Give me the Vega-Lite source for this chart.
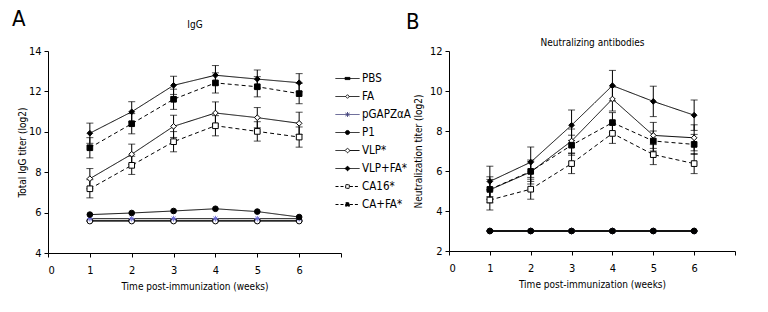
{
  "$schema": "https://vega.github.io/schema/vega-lite/v6.json",
  "padding": {"left": 12, "top": 8, "right": 5, "bottom": 5},
  "bounds": "flush",
  "spacing": 108,
  "datasets": {
    "igg": [
      {"group": "PBS", "week": 1, "mean": 5.6, "err": 0},
      {"group": "PBS", "week": 2, "mean": 5.6, "err": 0},
      {"group": "PBS", "week": 3, "mean": 5.6, "err": 0},
      {"group": "PBS", "week": 4, "mean": 5.6, "err": 0},
      {"group": "PBS", "week": 5, "mean": 5.6, "err": 0},
      {"group": "PBS", "week": 6, "mean": 5.6, "err": 0},
      {"group": "FA", "week": 1, "mean": 5.58, "err": 0},
      {"group": "FA", "week": 2, "mean": 5.58, "err": 0},
      {"group": "FA", "week": 3, "mean": 5.58, "err": 0},
      {"group": "FA", "week": 4, "mean": 5.58, "err": 0},
      {"group": "FA", "week": 5, "mean": 5.58, "err": 0},
      {"group": "FA", "week": 6, "mean": 5.58, "err": 0},
      {"group": "pGAPZαA", "week": 1, "mean": 5.7, "err": 0},
      {"group": "pGAPZαA", "week": 2, "mean": 5.7, "err": 0},
      {"group": "pGAPZαA", "week": 3, "mean": 5.7, "err": 0},
      {"group": "pGAPZαA", "week": 4, "mean": 5.7, "err": 0},
      {"group": "pGAPZαA", "week": 5, "mean": 5.7, "err": 0},
      {"group": "pGAPZαA", "week": 6, "mean": 5.7, "err": 0},
      {"group": "P1", "week": 1, "mean": 5.9, "err": 0},
      {"group": "P1", "week": 2, "mean": 5.98, "err": 0},
      {"group": "P1", "week": 3, "mean": 6.08, "err": 0},
      {"group": "P1", "week": 4, "mean": 6.19, "err": 0},
      {"group": "P1", "week": 5, "mean": 6.05, "err": 0},
      {"group": "P1", "week": 6, "mean": 5.78, "err": 0},
      {"group": "VLP*", "week": 1, "mean": 7.68, "err": 0.5},
      {"group": "VLP*", "week": 2, "mean": 8.89, "err": 0.5},
      {"group": "VLP*", "week": 3, "mean": 10.27, "err": 0.55},
      {"group": "VLP*", "week": 4, "mean": 10.93, "err": 0.55},
      {"group": "VLP*", "week": 5, "mean": 10.7, "err": 0.5},
      {"group": "VLP*", "week": 6, "mean": 10.42, "err": 0.55},
      {"group": "VLP+FA*", "week": 1, "mean": 9.93, "err": 0.5},
      {"group": "VLP+FA*", "week": 2, "mean": 10.99, "err": 0.5},
      {"group": "VLP+FA*", "week": 3, "mean": 12.3, "err": 0.45},
      {"group": "VLP+FA*", "week": 4, "mean": 12.8, "err": 0.48},
      {"group": "VLP+FA*", "week": 5, "mean": 12.61, "err": 0.45},
      {"group": "VLP+FA*", "week": 6, "mean": 12.43, "err": 0.45},
      {"group": "CA16*", "week": 1, "mean": 7.18, "err": 0.45},
      {"group": "CA16*", "week": 2, "mean": 8.34, "err": 0.45},
      {"group": "CA16*", "week": 3, "mean": 9.51, "err": 0.5},
      {"group": "CA16*", "week": 4, "mean": 10.3, "err": 0.5},
      {"group": "CA16*", "week": 5, "mean": 10.02, "err": 0.48},
      {"group": "CA16*", "week": 6, "mean": 9.74, "err": 0.5},
      {"group": "CA+FA*", "week": 1, "mean": 9.21, "err": 0.5},
      {"group": "CA+FA*", "week": 2, "mean": 10.4, "err": 0.5},
      {"group": "CA+FA*", "week": 3, "mean": 11.61, "err": 0.5},
      {"group": "CA+FA*", "week": 4, "mean": 12.42, "err": 0.5},
      {"group": "CA+FA*", "week": 5, "mean": 12.23, "err": 0.5},
      {"group": "CA+FA*", "week": 6, "mean": 11.89, "err": 0.5}
    ],
    "neut": [
      {"group": "PBS", "week": 1, "mean": 3, "err": 0},
      {"group": "PBS", "week": 2, "mean": 3, "err": 0},
      {"group": "PBS", "week": 3, "mean": 3, "err": 0},
      {"group": "PBS", "week": 4, "mean": 3, "err": 0},
      {"group": "PBS", "week": 5, "mean": 3, "err": 0},
      {"group": "PBS", "week": 6, "mean": 3, "err": 0},
      {"group": "FA", "week": 1, "mean": 3, "err": 0},
      {"group": "FA", "week": 2, "mean": 3, "err": 0},
      {"group": "FA", "week": 3, "mean": 3, "err": 0},
      {"group": "FA", "week": 4, "mean": 3, "err": 0},
      {"group": "FA", "week": 5, "mean": 3, "err": 0},
      {"group": "FA", "week": 6, "mean": 3, "err": 0},
      {"group": "pGAPZαA", "week": 1, "mean": 3, "err": 0},
      {"group": "pGAPZαA", "week": 2, "mean": 3, "err": 0},
      {"group": "pGAPZαA", "week": 3, "mean": 3, "err": 0},
      {"group": "pGAPZαA", "week": 4, "mean": 3, "err": 0},
      {"group": "pGAPZαA", "week": 5, "mean": 3, "err": 0},
      {"group": "pGAPZαA", "week": 6, "mean": 3, "err": 0},
      {"group": "P1", "week": 1, "mean": 3, "err": 0},
      {"group": "P1", "week": 2, "mean": 3, "err": 0},
      {"group": "P1", "week": 3, "mean": 3, "err": 0},
      {"group": "P1", "week": 4, "mean": 3, "err": 0},
      {"group": "P1", "week": 5, "mean": 3, "err": 0},
      {"group": "P1", "week": 6, "mean": 3, "err": 0},
      {"group": "VLP*", "week": 1, "mean": 5.06, "err": 0.65},
      {"group": "VLP*", "week": 2, "mean": 5.95, "err": 0.6},
      {"group": "VLP*", "week": 3, "mean": 7.5, "err": 0.6},
      {"group": "VLP*", "week": 4, "mean": 9.6, "err": 0.6},
      {"group": "VLP*", "week": 5, "mean": 7.78, "err": 0.65},
      {"group": "VLP*", "week": 6, "mean": 7.66, "err": 0.65},
      {"group": "VLP+FA*", "week": 1, "mean": 5.48, "err": 0.76},
      {"group": "VLP+FA*", "week": 2, "mean": 6.44, "err": 0.76},
      {"group": "VLP+FA*", "week": 3, "mean": 8.29, "err": 0.76},
      {"group": "VLP+FA*", "week": 4, "mean": 10.27, "err": 0.76},
      {"group": "VLP+FA*", "week": 5, "mean": 9.48, "err": 0.76},
      {"group": "VLP+FA*", "week": 6, "mean": 8.79, "err": 0.76},
      {"group": "CA16*", "week": 1, "mean": 4.55, "err": 0.5},
      {"group": "CA16*", "week": 2, "mean": 5.09, "err": 0.5},
      {"group": "CA16*", "week": 3, "mean": 6.37, "err": 0.5},
      {"group": "CA16*", "week": 4, "mean": 7.88, "err": 0.5},
      {"group": "CA16*", "week": 5, "mean": 6.82, "err": 0.5},
      {"group": "CA16*", "week": 6, "mean": 6.37, "err": 0.5},
      {"group": "CA+FA*", "week": 1, "mean": 5.08, "err": 0.5},
      {"group": "CA+FA*", "week": 2, "mean": 5.98, "err": 0.5},
      {"group": "CA+FA*", "week": 3, "mean": 7.29, "err": 0.5},
      {"group": "CA+FA*", "week": 4, "mean": 8.42, "err": 0.5},
      {"group": "CA+FA*", "week": 5, "mean": 7.5, "err": 0.5},
      {"group": "CA+FA*", "week": 6, "mean": 7.33, "err": 0.5}
    ]
  },
  "hconcat": [
    {
      "width": 293,
      "height": 202,
      "data": {"name": "igg"},
      "title": {"text": "A", "anchor": "start", "frame": "group", "fontSize": 22, "dx": -36, "dy": 16},
      "resolve": {"axis": {"x": "independent"}, "scale": {"shape": "independent", "fill": "independent", "stroke": "independent", "strokeDash": "independent"}},
      "layer": [
        {
          "mark": {"type": "line", "color": "black", "strokeWidth": 1},
          "encoding": {
            "x": {"field": "week", "type": "quantitative", "scale": {"domain": [0, 7], "nice": false},
              "axis": {"orient": "bottom", "values": [0, 1, 2, 3, 4, 5, 6, 7], "labelExpr": "datum.value == 7 ? '' : datum.label", "title": "Time post-immunization (weeks)", "labelPadding": 7, "titlePadding": 6}},
            "y": {"field": "mean", "type": "quantitative", "title": "Total IgG titer (log2)", "scale": {"domain": [4, 14], "nice": false, "zero": false},
              "axis": {"values": [4, 6, 8, 10, 12, 14], "titlePadding": 1}},
            "detail": {"field": "group"},
            "strokeDash": {"field": "group", "type": "nominal", "legend": null,
              "scale": {"domain": ["CA+FA*", "CA16*", "VLP+FA*", "VLP*", "P1", "pGAPZαA", "FA", "PBS"],
                "range": [[4, 3], [4, 3], [1, 0], [1, 0], [1, 0], [1, 0], [1, 0], [1, 0]]}}
          }
        },
        {
          "transform": [{"filter": "datum.err > 0"}],
          "mark": {"type": "errorbar", "color": "black", "ticks": {"size": 7, "color": "black"}, "rule": {"color": "black", "strokeWidth": 1}},
          "encoding": {
            "x": {"field": "week", "type": "quantitative", "axis": null},
            "y": {"field": "mean", "type": "quantitative", "title": "Total IgG titer (log2)"},
            "yError": {"field": "err"}
          }
        },
        {
          "mark": {"type": "point", "size": 32, "strokeWidth": 1, "opacity": 1},
          "encoding": {
            "x": {"field": "week", "type": "quantitative",
              "axis": {"orient": "top", "title": "IgG", "domain": false, "ticks": false, "labels": false, "titlePadding": 22}},
            "y": {"field": "mean", "type": "quantitative", "title": "Total IgG titer (log2)"},
            "shape": {"field": "group", "type": "nominal", "legend": null,
              "scale": {"domain": ["CA+FA*", "CA16*", "VLP+FA*", "VLP*", "P1", "pGAPZαA", "FA", "PBS"],
                "range": ["square", "square", "diamond", "diamond", "circle", "M-1,0H1M0,-1V1M-0.7,-0.7L0.7,0.7M-0.7,0.7L0.7,-0.7", "circle", "M-1,-0.4H1V0.4H-1Z"]}},
            "fill": {"field": "group", "type": "nominal", "legend": null,
              "scale": {"domain": ["CA+FA*", "CA16*", "VLP+FA*", "VLP*", "P1", "pGAPZαA", "FA", "PBS"],
                "range": ["black", "white", "black", "white", "black", "white", "white", "black"]}},
            "stroke": {"field": "group", "type": "nominal", "legend": null,
              "scale": {"domain": ["CA+FA*", "CA16*", "VLP+FA*", "VLP*", "P1", "pGAPZαA", "FA", "PBS"],
                "range": ["black", "black", "black", "black", "black", "#6f6fd8", "black", "black"]}}
          }
        },
        {
          "transform": [{"filter": "datum.week > 100"}],
          "mark": {"type": "point", "strokeWidth": 1, "opacity": 1},
          "encoding": {
            "shape": {"field": "group", "type": "nominal",
              "scale": {"domain": ["PBS", "FA", "pGAPZαA", "P1", "VLP*", "VLP+FA*", "CA16*", "CA+FA*"],
                "range": [
                  "M-1,0H1M-0.2,-0.09H0.2V0.09H-0.2Z",
                  "M-1,0H-0.15M0.15,0H1M-0.15,0L0,-0.15L0.15,0L0,0.15Z",
                  "M-1,0H1M0,-0.2V0.2M-0.17,-0.12L0.17,0.12M-0.17,0.12L0.17,-0.12",
                  "M-1,0H1M0.17,0A0.17,0.17 0 1,1 -0.17,0A0.17,0.17 0 1,1 0.17,0Z",
                  "M-1,0H-0.2M0.2,0H1M-0.2,0L0,-0.2L0.2,0L0,0.2Z",
                  "M-1,0H1M-0.2,0L0,-0.2L0.2,0L0,0.2Z",
                  "M-1,0H-0.2M0.2,0H1M-0.15,-0.15H0.15M0.15,-0.15V0.15M0.15,0.15H-0.15M-0.15,0.15V-0.15",
                  "M-1,0H-0.2M0.2,0H1M-0.15,-0.15H0.15V0.15H-0.15Z"
                ]},
              "legend": {
                "orient": "none", "legendX": 287, "legendY": 15, "title": null, "padding": 0,
                "symbolSize": 576, "symbolStrokeWidth": 1, "symbolOpacity": 1, "labelOffset": 2, "rowPadding": -4.2,
                "labelFontSize": 11.5, "labelColor": "black"
              }},
            "fill": {"field": "group", "type": "nominal",
              "scale": {"domain": ["PBS", "FA", "pGAPZαA", "P1", "VLP*", "VLP+FA*", "CA16*", "CA+FA*"],
                "range": ["black", "white", "white", "black", "white", "black", "white", "black"]},
              "legend": {"orient": "none", "legendX": 287, "legendY": 15, "title": null, "padding": 0,
                "symbolSize": 576, "symbolStrokeWidth": 1, "symbolOpacity": 1, "labelOffset": 2, "rowPadding": -4.2,
                "labelFontSize": 11.5, "labelColor": "black"}},
            "stroke": {"field": "group", "type": "nominal",
              "scale": {"domain": ["PBS", "FA", "pGAPZαA", "P1", "VLP*", "VLP+FA*", "CA16*", "CA+FA*"],
                "range": ["black", "black", "#40407a", "black", "black", "black", "black", "black"]},
              "legend": {"orient": "none", "legendX": 287, "legendY": 15, "title": null, "padding": 0,
                "symbolSize": 576, "symbolStrokeWidth": 1, "symbolOpacity": 1, "labelOffset": 2, "rowPadding": -4.2,
                "labelFontSize": 11.5, "labelColor": "black"}},
            "strokeDash": {"field": "group", "type": "nominal",
              "scale": {"domain": ["PBS", "FA", "pGAPZαA", "P1", "VLP*", "VLP+FA*", "CA16*", "CA+FA*"],
                "range": [[1, 0], [1, 0], [1, 0], [1, 0], [1, 0], [1, 0], [3, 2], [3, 2]]},
              "legend": {"orient": "none", "legendX": 287, "legendY": 15, "title": null, "padding": 0,
                "symbolSize": 576, "symbolStrokeWidth": 1, "symbolOpacity": 1, "labelOffset": 2, "rowPadding": -4.2,
                "labelFontSize": 11.5, "labelColor": "black"}}
          }
        }
      ]
    },
    {
      "width": 286,
      "height": 200,
      "data": {"name": "neut"},
      "title": {"text": "B", "anchor": "start", "frame": "group", "fontSize": 22, "dx": -43, "dy": 1},
      "resolve": {"axis": {"x": "independent"}},
      "layer": [
        {
          "mark": {"type": "line", "color": "black", "strokeWidth": 1},
          "encoding": {
            "x": {"field": "week", "type": "quantitative", "scale": {"domain": [0, 7], "nice": false},
              "axis": {"orient": "bottom", "values": [0, 1, 2, 3, 4, 5, 6, 7], "labelExpr": "datum.value == 7 ? '' : datum.label", "title": "Time post-immunization (weeks)", "labelPadding": 7, "titlePadding": 6}},
            "y": {"field": "mean", "type": "quantitative", "title": "Neutralization titer (log2)", "scale": {"domain": [2, 12], "nice": false, "zero": false},
              "axis": {"values": [2, 4, 6, 8, 10, 12], "titlePadding": 6}},
            "detail": {"field": "group"},
            "strokeDash": {"field": "group", "type": "nominal", "legend": null,
              "scale": {"domain": ["PBS", "FA", "pGAPZαA", "P1", "VLP*", "VLP+FA*", "CA16*", "CA+FA*"],
                "range": [[1, 0], [1, 0], [1, 0], [1, 0], [1, 0], [1, 0], [4, 3], [4, 3]]}}
          }
        },
        {
          "transform": [{"filter": "datum.err > 0"}],
          "mark": {"type": "errorbar", "color": "black", "ticks": {"size": 7, "color": "black"}, "rule": {"color": "black", "strokeWidth": 1}},
          "encoding": {
            "x": {"field": "week", "type": "quantitative", "axis": null},
            "y": {"field": "mean", "type": "quantitative", "title": "Neutralization titer (log2)", "axis": {"values": [2, 4, 6, 8, 10, 12], "titlePadding": 6}},
            "yError": {"field": "err"}
          }
        },
        {
          "mark": {"type": "point", "size": 32, "strokeWidth": 1, "opacity": 1},
          "encoding": {
            "x": {"field": "week", "type": "quantitative",
              "axis": {"orient": "top", "title": "Neutralizing antibodies", "domain": false, "ticks": false, "labels": false, "titlePadding": 4}},
            "y": {"field": "mean", "type": "quantitative", "title": "Neutralization titer (log2)", "axis": {"values": [2, 4, 6, 8, 10, 12], "titlePadding": 6}},
            "shape": {"field": "group", "type": "nominal", "legend": null,
              "scale": {"domain": ["PBS", "FA", "pGAPZαA", "P1", "VLP*", "VLP+FA*", "CA16*", "CA+FA*"],
                "range": ["M-1,-0.4H1V0.4H-1Z", "circle", "M-1,0H1M0,-1V1M-0.7,-0.7L0.7,0.7M-0.7,0.7L0.7,-0.7", "circle", "diamond", "diamond", "square", "square"]}},
            "fill": {"field": "group", "type": "nominal", "legend": null,
              "scale": {"domain": ["PBS", "FA", "pGAPZαA", "P1", "VLP*", "VLP+FA*", "CA16*", "CA+FA*"],
                "range": ["black", "white", "white", "black", "white", "black", "white", "black"]}},
            "stroke": {"field": "group", "type": "nominal", "legend": null,
              "scale": {"domain": ["PBS", "FA", "pGAPZαA", "P1", "VLP*", "VLP+FA*", "CA16*", "CA+FA*"],
                "range": ["black", "black", "#6f6fd8", "black", "black", "black", "black", "black"]}}
          }
        }
      ]
    }
  ],
  "resolve": {"scale": {"shape": "independent", "fill": "independent", "stroke": "independent", "strokeDash": "independent"}},
  "config": {
    "font": "DejaVu Sans Condensed",
    "view": {"stroke": null},
    "axis": {"grid": false, "domainColor": "black", "tickColor": "black", "labelColor": "black", "titleColor": "black",
      "labelFont": "DejaVu Sans Condensed", "titleFont": "DejaVu Sans Condensed", "labelOverlap": false,
      "labelFontSize": 11, "titleFontSize": 10, "titleFontWeight": "normal", "tickSize": 4, "labelPadding": 3},
    "legend": {"labelFont": "DejaVu Sans Condensed"},
    "title": {"font": "DejaVu Sans Condensed", "fontWeight": "normal", "fontSize": 12, "color": "black"}
  }
}
